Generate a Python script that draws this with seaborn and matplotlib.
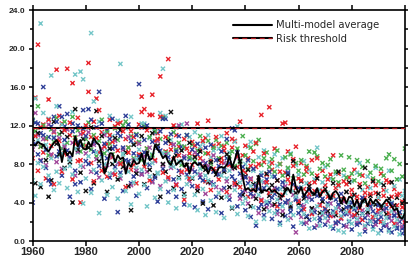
import matplotlib
matplotlib.use("Agg")
import matplotlib.pyplot as plt
from matplotlib.lines import Line2D
import numpy as np
import pandas as pd
import seaborn as sns

years = list(range(1960, 2101))
x_ticks = [1960, 1980, 2000, 2020, 2040, 2060, 2080, 2100]
x_tick_labels = ["1960", "1980", "2000", "2020", "2040", "2060", "2080", ""]
y_ticks = [0, 4, 8, 12, 16, 20, 24]
y_tick_labels = ["0.0", "4.0", "8.0", "12.0", "16.0", "20.0", "24.0"]
risk_threshold = 11.7

# multi-model average
avg = [
    10.1, 9.9, 10.3, 10.1, 10.0, 9.6, 9.3, 9.8, 10.2, 10.5,
    10.0, 8.2, 9.6, 8.9, 9.3, 8.8, 10.9, 9.8, 10.5, 9.6,
    9.5, 10.3, 9.8, 10.7, 10.2, 10.0, 9.1, 7.0, 7.7, 9.1,
    9.1, 8.2, 8.9, 8.5, 8.7, 7.0, 8.1, 7.7, 8.4, 8.0,
    8.1, 9.1, 7.9, 9.3, 8.4, 8.6, 10.0, 9.5, 9.2, 8.6,
    8.9, 8.2, 7.9, 8.8, 7.9, 8.2, 8.4, 7.7, 8.1, 7.0,
    8.0, 8.2, 7.9, 8.1, 7.6, 7.9, 7.0, 7.7, 7.4, 7.0,
    7.6, 7.7, 7.6, 7.9, 8.8, 7.6, 8.4, 9.4, 8.2, 6.6,
    5.3, 5.5, 5.2, 5.4, 5.1, 6.8, 5.0, 5.3, 5.2, 5.5,
    5.1, 5.3, 5.0, 4.8, 4.6, 5.2, 5.5, 5.0, 6.9, 5.6,
    5.0, 5.6, 4.6, 5.1, 5.5, 5.0, 4.8, 5.5, 4.6, 5.1,
    5.3, 4.9, 4.3, 5.0, 5.2, 4.8, 3.9, 4.6, 3.9, 4.6,
    4.5, 3.6, 4.3, 3.4, 4.1, 4.4, 3.6, 4.4, 3.9, 4.3,
    4.0, 3.6, 3.9, 4.3, 4.0, 3.6, 3.2, 3.4, 2.5, 2.3,
    2.9,
]

red_a = [
    11.5, 14.9, 20.4, 9.8, 12.1, 10.6, 14.7, 8.9, 11.3, 17.8,
    10.4, 12.2, 9.1, 17.9, 11.0, 16.4, 10.7, 12.8, 8.4, 11.6,
    9.9, 18.5, 10.8, 12.4, 14.8, 9.2, 11.3, 7.6, 10.1, 12.6,
    8.7, 11.9, 9.4, 12.3, 8.1, 10.6, 9.7, 11.4, 7.9, 10.2,
    12.1, 15.0, 13.7, 9.6, 13.1, 15.2, 10.4, 11.2, 17.1, 12.9,
    9.3, 18.9, 10.1, 8.5, 11.0, 9.8, 8.2, 10.6, 7.4, 9.1,
    10.3, 8.8, 12.2, 9.5, 7.8, 10.7, 12.5, 8.4, 9.9, 7.3,
    10.1, 8.6, 9.4, 11.2, 8.0, 9.7, 10.4, 7.7, 12.4, 8.9,
    7.1, 8.6, 6.4, 9.3, 7.7, 6.0, 13.1, 8.2, 6.9, 13.9,
    7.4, 9.6, 6.3, 8.0, 12.2, 7.1, 9.3, 6.0, 8.5, 9.8,
    6.5, 8.1, 5.4, 7.2, 6.0, 8.4, 5.2, 6.8, 4.9, 7.3,
    5.8, 4.6, 6.9, 8.9, 5.5, 7.0, 4.4, 6.2, 5.1, 6.6,
    4.8, 7.4, 4.2, 5.9, 6.8, 4.5, 5.6, 3.9, 6.3, 5.0,
    4.4, 7.0, 5.3, 3.8, 6.1, 4.6, 5.4, 3.7, 4.9, 4.1,
    3.3,
]

red_b = [
    8.6, 10.9, 7.3, 11.8, 9.2, 6.5, 12.6, 9.9, 5.9, 10.4,
    13.0, 7.2, 11.5, 9.0, 12.3, 6.4, 10.1, 8.3, 4.0, 11.2,
    12.0, 15.5, 8.1, 6.2, 10.7, 13.6, 7.3, 9.8, 6.7, 11.0,
    10.3, 6.9, 12.2, 8.0, 11.4, 5.6, 9.2, 7.4, 10.8, 6.0,
    9.0, 13.4, 7.7, 11.5, 6.3, 13.1, 8.4, 10.6, 12.9, 7.1,
    10.8, 6.6, 9.5, 12.0, 5.8, 8.9, 7.2, 4.3, 9.6, 6.5,
    7.9, 9.9, 5.7, 8.6, 10.4, 6.2, 9.1, 5.3, 7.5, 10.8,
    6.4, 8.2, 9.8, 5.1, 7.9, 10.6, 6.0, 8.8, 5.6, 7.3,
    9.9, 4.6, 7.8, 5.3, 10.2, 8.0, 4.2, 9.1, 6.1, 5.0,
    8.1, 5.2, 3.6, 7.2, 4.8, 12.3, 6.4, 3.9, 7.8, 5.5,
    4.1, 6.3, 3.3, 7.6, 4.9, 2.8, 6.1, 8.6, 3.7, 5.2,
    3.4, 6.4, 2.6, 4.7, 3.0, 5.8, 2.4, 4.3, 5.9, 3.1,
    5.3, 2.7, 4.6, 3.4, 2.2, 5.0, 3.8, 4.9, 2.5, 5.8,
    3.2, 2.0, 4.7, 6.3, 2.9, 3.6, 1.8, 4.8, 2.6, 3.5,
    1.9,
]

blue_a = [
    4.0, 12.3, 9.0, 11.2, 16.0, 7.6, 10.8, 5.9, 12.9, 8.8,
    14.0, 6.8, 11.9, 9.4, 4.6, 12.2, 7.3, 10.3, 6.1, 11.7,
    8.3, 13.7, 5.4, 10.2, 7.1, 15.5, 9.0, 4.4, 11.5, 6.6,
    9.6, 7.7, 3.0, 10.9, 5.2, 8.4, 12.1, 6.0, 9.1, 4.7,
    16.3, 7.0, 10.5, 5.5, 8.7, 6.2, 11.3, 4.1, 9.4, 7.5,
    12.7, 5.1, 8.2, 10.0, 4.6, 7.3, 9.8, 3.8, 6.9, 8.5,
    5.7, 3.5, 9.0, 6.6, 4.1, 8.1, 3.3, 6.1, 7.2, 4.6,
    7.8, 2.9, 5.5, 8.6, 4.3, 11.7, 6.3, 3.6, 7.0, 5.1,
    3.2, 6.0, 2.5, 4.7, 1.6, 5.4, 3.8, 2.7, 6.4, 4.0,
    2.3, 4.9, 3.1, 1.9, 5.6, 2.6, 4.2, 3.4, 1.5, 4.4,
    2.9, 3.7, 1.8, 4.6, 2.2, 3.3, 1.4, 5.1, 2.4, 3.0,
    1.7, 3.9, 2.7, 1.3, 4.3, 2.0, 3.2, 1.6, 2.8, 3.6,
    1.2, 2.5, 3.4, 1.9, 2.9, 1.0, 3.0, 2.1, 1.5, 2.8,
    2.2, 1.1, 3.2, 1.7, 2.4, 0.9, 2.7, 1.4, 2.0, 1.3,
    2.3,
]

blue_b = [
    12.5, 10.1, 12.2, 8.3, 11.0, 9.5, 6.3, 11.9, 10.7, 12.4,
    9.3, 12.9, 10.5, 13.2, 8.7, 11.4, 5.9, 12.0, 9.9, 13.6,
    10.9, 8.0, 12.6, 9.3, 11.8, 7.8, 12.2, 10.1, 8.6, 10.6,
    12.7, 9.8, 11.2, 7.1, 9.7, 13.0, 8.3, 10.4, 6.7, 11.0,
    8.8, 11.8, 9.2, 12.0, 7.9, 10.3, 6.6, 9.7, 11.4, 12.7,
    10.2, 8.7, 11.1, 6.4, 9.3, 10.9, 5.4, 8.6, 11.0, 7.6,
    9.5, 7.2, 10.1, 8.0, 6.3, 9.7, 7.5, 10.0, 5.9, 8.4,
    6.9, 9.3, 7.4, 10.6, 8.1, 6.7, 11.5, 9.2, 4.8, 7.7,
    6.6, 8.4, 4.9, 7.5, 5.7, 3.4, 6.8, 5.5, 3.9, 7.2,
    4.5, 6.7, 5.4, 3.8, 6.1, 4.0, 7.1, 3.0, 5.9, 4.3,
    5.5, 3.2, 4.8, 2.6, 5.3, 4.3, 3.0, 4.7, 2.1, 4.4,
    3.3, 2.6, 4.5, 3.1, 1.9, 3.8, 4.9, 2.8, 3.5, 2.0,
    4.0, 3.3, 1.7, 3.8, 4.5, 2.4, 1.8, 3.6, 3.1, 2.0,
    3.7, 2.5, 1.6, 3.4, 1.2, 3.9, 2.6, 1.3, 3.0, 0.8,
    1.5,
]

cyan_a = [
    11.2, 14.8, 10.5, 22.6, 13.3, 9.4, 12.7, 17.2, 10.8, 14.0,
    8.9, 12.1, 10.0, 11.6, 7.8, 13.4, 17.3, 9.2, 17.6, 16.8,
    11.8, 9.7, 21.6, 14.5, 10.3, 12.4, 8.6, 11.2, 9.4, 13.0,
    10.9, 7.3, 12.5, 18.4, 9.1, 11.7, 8.2, 12.9, 10.1, 7.6,
    9.5, 12.2, 12.2, 8.0, 10.7, 9.0, 11.6, 7.1, 13.3, 17.9,
    13.0, 9.1, 10.5, 7.7, 11.8, 8.3, 12.1, 9.6, 6.6, 10.8,
    8.5, 11.3, 7.0, 9.8, 10.2, 6.8, 11.0, 8.7, 9.4, 7.2,
    9.6, 10.9, 8.1, 6.5, 9.2, 7.9, 10.3, 11.9, 8.4, 6.9,
    8.0, 9.8, 10.3, 7.3, 6.0, 8.7, 7.1, 9.4, 5.8, 8.2,
    6.7, 9.0, 7.8, 5.4, 8.6, 6.2, 7.5, 9.1, 5.2, 7.9,
    6.9, 5.6, 8.3, 6.0, 7.4, 4.9, 6.4, 9.7, 5.3, 6.1,
    7.7, 5.0, 6.5, 4.6, 7.0, 5.7, 4.3, 6.8, 5.1, 4.0,
    6.2, 4.7, 7.1, 8.1, 5.3, 4.1, 6.7, 5.5, 3.8, 7.6,
    4.5, 6.0, 3.6, 5.2, 7.3, 4.0, 5.7, 3.3, 6.4, 4.7,
    5.2,
]

cyan_b = [
    6.3, 4.7, 8.1, 5.9, 7.7, 10.0, 6.8, 8.6, 5.3, 7.2,
    6.0, 9.1, 7.5, 5.5, 8.4, 6.9, 9.6, 5.1, 7.8, 3.9,
    6.5, 8.8, 5.0, 7.4, 9.2, 2.9, 6.3, 8.0, 4.8, 7.0,
    5.6, 8.3, 4.4, 6.8, 9.0, 5.2, 7.2, 3.8, 6.1, 8.5,
    4.9, 7.4, 5.8, 3.6, 6.7, 8.1, 4.5, 7.0, 5.4, 9.1,
    6.2, 4.0, 7.8, 5.3, 3.4, 6.5, 8.2, 4.7, 5.9, 3.7,
    6.6, 4.8, 3.2, 7.5, 5.4, 2.7, 6.3, 4.2, 5.8, 3.0,
    5.0, 6.8, 2.4, 4.6, 7.3, 3.5, 5.3, 2.8, 6.1, 3.9,
    4.4, 2.6, 5.7, 3.5, 2.0, 4.8, 6.2, 2.3, 4.1, 3.1,
    5.1, 2.9, 4.3, 1.7, 3.6, 5.0, 2.2, 3.9, 2.7, 4.6,
    3.5, 1.9, 2.8, 4.1, 1.3, 3.1, 2.3, 3.6, 1.6, 2.9,
    2.4, 3.7, 1.5, 2.9, 3.4, 1.1, 2.6, 0.9, 3.0, 2.1,
    1.8, 3.5, 2.3, 0.7, 2.8, 1.6, 3.3, 2.0, 1.2, 2.6,
    0.8, 2.9, 1.9, 2.4, 1.0, 3.1, 1.5, 2.2, 0.7, 2.5,
    3.0,
]

green = [
    12.6, 11.4, 14.0, 9.8, 12.0, 10.7, 8.9, 11.6, 10.3, 12.8,
    11.1, 9.6, 12.4, 10.2, 8.5, 12.9, 10.8, 11.5, 9.3, 10.0,
    10.6, 12.3, 9.5, 11.0, 8.8, 10.4, 12.6, 9.1, 11.3, 10.1,
    9.0, 11.7, 10.5, 8.2, 12.0, 12.4, 9.7, 10.9, 8.6, 11.1,
    10.3, 8.4, 11.9, 9.6, 10.8, 8.9, 11.4, 9.9, 10.6, 12.8,
    9.2, 10.7, 8.1, 11.3, 9.5, 10.2, 7.9, 9.8, 11.0, 8.7,
    10.0, 8.3, 9.4, 10.9, 7.6, 9.1, 10.4, 8.0, 9.7, 10.5,
    8.6, 9.9, 7.4, 10.2, 8.8, 9.3, 7.8, 9.6, 8.2, 10.9,
    8.9, 7.5, 9.7, 8.3, 10.1, 10.5, 7.9, 8.6, 9.2, 7.7,
    8.5, 7.2, 9.4, 8.0, 6.8, 8.7, 7.6, 9.0, 6.5, 8.1,
    7.3, 8.4, 6.9, 7.8, 9.3, 7.0, 9.2, 8.8, 7.5, 8.1,
    6.7, 7.9, 8.5, 6.4, 7.2, 6.1, 8.9, 7.4, 6.6, 8.7,
    7.0, 6.3, 8.4, 6.9, 7.7, 6.0, 8.3, 7.1, 6.5, 7.8,
    6.2, 7.5, 6.8, 8.6, 9.0, 7.3, 8.5, 6.4, 8.0, 6.7,
    9.6,
]

magenta = [
    9.5, 13.3, 11.0, 8.4, 10.6, 7.9, 12.1, 9.0, 11.4, 8.2,
    10.7, 7.5, 9.8, 11.6, 8.6, 10.2, 6.8, 9.3, 11.1, 7.7,
    9.1, 11.3, 7.2, 10.0, 8.5, 6.6, 9.6, 11.0, 7.9, 8.8,
    7.0, 10.4, 8.1, 6.5, 9.5, 7.6, 10.8, 5.8, 8.4, 7.3,
    10.1, 6.9, 8.8, 7.2, 9.7, 6.1, 8.3, 10.4, 5.7, 7.9,
    9.0, 6.4, 7.6, 10.0, 5.9, 12.0, 7.1, 8.8, 12.2, 6.2,
    7.4, 9.2, 5.5, 6.9, 8.3, 4.9, 7.8, 6.0, 8.9, 5.6,
    7.0, 5.3, 8.1, 6.2, 4.7, 7.5, 5.8, 8.7, 4.4, 6.6,
    5.2, 3.9, 6.5, 4.6, 5.8, 2.9, 4.3, 6.1, 3.5, 5.0,
    3.7, 5.5, 2.8, 4.4, 3.1, 5.7, 4.0, 2.4, 4.8, 0.9,
    4.2, 2.5, 3.6, 1.9, 4.5, 2.9, 3.3, 1.6, 3.8, 2.7,
    3.0, 2.1, 3.9, 2.6, 1.8, 3.5, 2.3, 4.1, 1.5, 2.9,
    2.6, 3.7, 1.9, 2.4, 3.2, 1.4, 2.7, 3.5, 2.2, 1.7,
    2.9, 2.0, 3.3, 1.6, 2.6, 2.1, 3.1, 1.8, 2.4, 1.5,
    2.0,
]

black = [
    10.6, 6.0, 11.2, 5.6, 9.9, 8.4, 4.6, 6.3, 12.4, 10.1,
    9.0, 11.3, 7.6, 10.8, 8.2, 4.0, 13.7, 9.5, 7.1, 10.6,
    5.2, 9.7, 11.8, 6.0, 13.5, 8.3, 10.9, 7.4, 5.1, 9.6,
    8.0, 10.7, 6.4, 11.5, 7.7, 9.2, 5.7, 3.2, 10.0, 7.0,
    8.6, 10.9, 5.9, 9.1, 7.4, 11.2, 6.8, 9.9, 4.6, 8.0,
    7.2, 10.4, 13.4, 5.5, 8.9, 6.6, 9.4, 4.9, 7.9, 10.2,
    6.5, 8.7, 5.2, 9.3, 3.9, 7.4, 6.1, 8.2, 3.7, 6.9,
    8.4, 4.5, 7.2, 9.0, 5.6, 3.4, 7.6, 5.9, 8.3, 4.8,
    6.7, 7.4, 3.6, 5.9, 4.4, 6.6, 5.2, 3.3, 7.0, 4.7,
    5.8, 3.8, 6.3, 4.5, 2.7, 5.4, 6.9, 3.6, 8.3, 5.0,
    3.9, 6.2, 4.4, 2.5, 5.7, 3.4, 4.9, 6.5, 2.9, 4.1,
    5.4, 3.1, 4.6, 6.0, 2.7, 7.2, 4.0, 3.3, 5.1, 6.1,
    3.5, 4.8, 2.9, 5.6, 4.2, 7.6, 3.0, 4.7, 6.2, 3.8,
    4.9, 3.4, 5.8, 2.8, 4.4, 6.1, 3.7, 4.5, 2.6, 3.9,
    4.2,
]

models = {
    "red_a": red_a, "blue_a": blue_a, "cyan_a": cyan_a, "green": green,
    "magenta": magenta, "black": black, "red_b": red_b, "blue_b": blue_b,
    "cyan_b": cyan_b,
}
palette = {
    "red_a": "#e8242c", "red_b": "#e8242c", "blue_a": "#2f3f98",
    "blue_b": "#2f3f98", "cyan_a": "#74c6c8", "cyan_b": "#74c6c8",
    "green": "#4caf50", "magenta": "#a24a9c", "black": "#111111",
}

for name, vals in models.items():
    assert len(vals) == len(years), name
assert len(avg) == len(years)

df = pd.concat(
    [pd.DataFrame({"year": years, "value": vals, "model": name}) for name, vals in models.items()],
    ignore_index=True,
)

sns.set_style("ticks")
plt.rcParams["font.family"] = ["DejaVu Sans"]

fig = plt.figure(figsize=(4.08, 2.60), dpi=100)
ax = fig.add_axes([0.080, 0.073, 0.9125, 0.8885])

sns.scatterplot(data=df, x="year", y="value", hue="model", palette=palette,
                marker="x", s=9, linewidth=1.0, legend=False, ax=ax, zorder=2)
sns.lineplot(x=years, y=avg, color="black", linewidth=1.3, ax=ax, zorder=3)
ax.axhline(risk_threshold, color="black", linewidth=1.5, zorder=4)
ax.axhline(risk_threshold, color="#b0161c", linewidth=0.9, linestyle=(0, (4, 3)), zorder=5)

ax.set_xlim(1960, 2100)
ax.set_ylim(0, 24)
ax.set_xticks(x_ticks)
ax.set_xticklabels(x_tick_labels, fontsize=8, fontweight="bold", family="Liberation Sans")
ax.set_yticks(y_ticks)
ax.set_yticklabels(y_tick_labels, fontsize=6, fontweight="bold", family="Liberation Sans")
ax.set_yticks([2, 6, 10, 14, 18, 22], minor=True)
ax.set_xlabel("")
ax.set_ylabel("")

ax.tick_params(which="both", direction="out", top=True, right=True, width=1.1, color="black")
ax.tick_params(axis="x", which="major", length=3.6, pad=1)
ax.tick_params(axis="y", which="major", length=3.0, pad=2)
ax.tick_params(axis="y", which="minor", length=2.5)
for side in ["left", "right", "top", "bottom"]:
    ax.spines[side].set_visible(True)
    ax.spines[side].set_linewidth(1.2)
    ax.spines[side].set_color("black")

avg_handle = Line2D([], [], color="black", linewidth=1.5)
thr_handle = (Line2D([], [], color="black", linewidth=1.5),
              Line2D([], [], color="#b0161c", linewidth=0.9, linestyle=(0, (4, 3))))
ax.legend([avg_handle, thr_handle], ["Multi-model average", "Risk threshold"],
          loc="upper left", bbox_to_anchor=(0.537, 0.955), frameon=False,
          fontsize=7.2, handlelength=3.9, handletextpad=0.4,
          borderaxespad=0, borderpad=0, labelspacing=0.35)

fig.savefig("out.png", dpi=100)
